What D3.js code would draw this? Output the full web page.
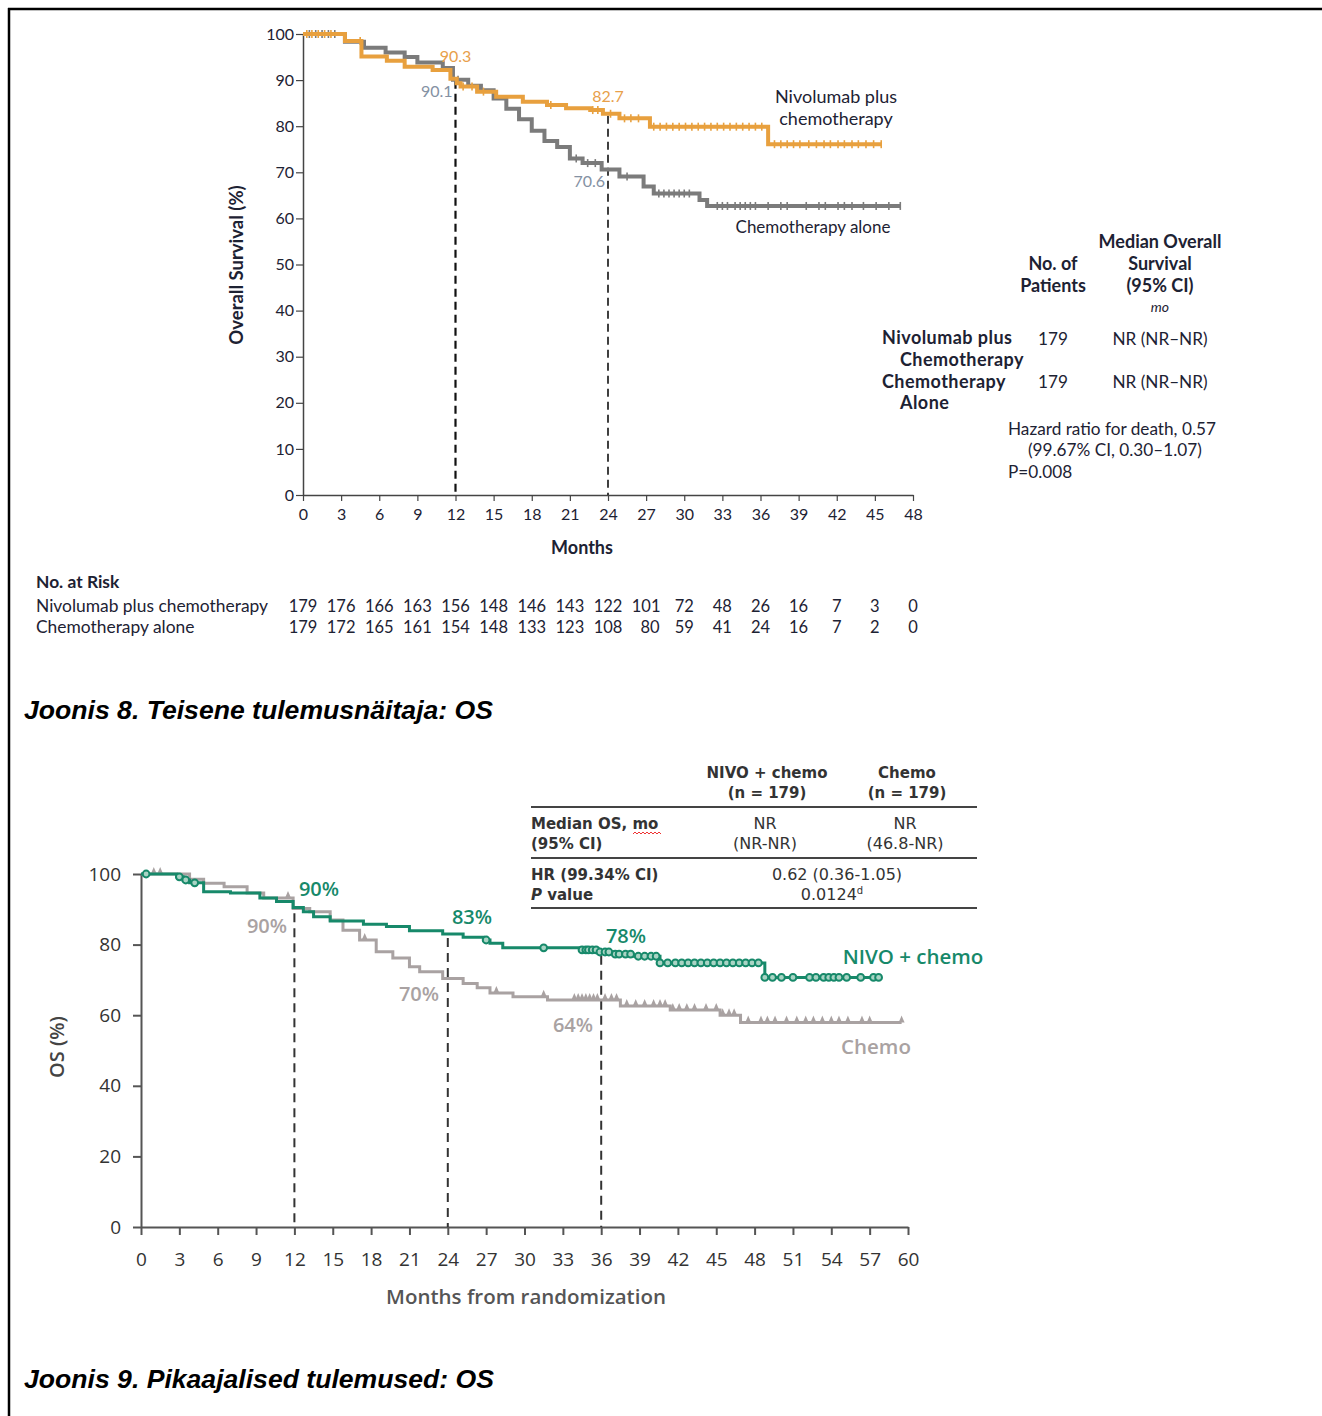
<!DOCTYPE html>
<html>
<head>
<meta charset="utf-8">
<script src="https://cdn.jsdelivr.net/npm/d3@7/dist/d3.min.js"></script>
<style>
  html, body { margin: 0; padding: 0; background: #fff; }
  svg { display: block; }
</style>
</head>
<body>
<svg id="page" width="1322" height="1416"></svg>
<script>
// ---------- Figure 8: CheckMate KM overall survival ----------
const f8Ticks = [0, 3, 6, 9, 12, 15, 18, 21, 24, 27, 30, 33, 36, 39, 42, 45, 48];
const f8YTicks = [0, 10, 20, 30, 40, 50, 60, 70, 80, 90, 100];

const f8NivoTime = [0, 3.3, 4.6, 6.6, 8.0, 10.2, 11.6, 12.1, 12.4, 13.7, 15.2, 17.3, 19.2, 20.7, 22.6, 23.6, 24.9, 27.3, 36.6, 45.5];
const f8NivoSurv = [100, 98.5, 95.1, 94.2, 92.9, 92.2, 90.3, 89.3, 88.6, 87.5, 86.4, 85.3, 84.6, 83.9, 83.5, 82.7, 81.7, 79.9, 76.1, 76.1];
const f8NivoCens = [0.3, 0.7, 1.2, 1.7, 2.2, 4.5, 12.6, 13.3, 14.2, 19.5, 22.8, 23.2, 24.2, 25.3, 25.8, 26.4, 27.6, 28.1, 28.6, 29.1, 29.6, 30.1, 30.6, 31.1, 31.6, 32.1, 32.6, 33.1, 33.6, 34.1, 34.6, 35.1, 35.6, 36.1, 37.1, 37.6, 38.1, 38.6, 39.1, 39.8, 40.4, 41.0, 41.5, 42.1, 42.6, 43.2, 43.7, 44.3, 44.9, 45.5];

const f8ChemoTime = [0, 3.3, 4.8, 6.5, 8.0, 9.0, 11.0, 11.8, 13.0, 14.0, 15.0, 16.0, 17.0, 18.0, 19.0, 20.0, 21.0, 22.0, 23.5, 24.9, 26.8, 27.6, 31.2, 31.8, 47.0];
const f8ChemoSurv = [100, 98.3, 97.0, 96.0, 95.0, 93.8, 92.6, 90.1, 88.8, 87.8, 86.0, 83.8, 81.5, 79.0, 76.8, 75.5, 73.0, 72.0, 70.6, 69.1, 66.9, 65.4, 64.0, 62.7, 62.7];
const f8ChemoCens = [0.5, 1.0, 1.5, 2.0, 2.5, 12.2, 21.5, 22.4, 23.0, 25.5, 28.0, 28.4, 28.8, 29.2, 29.6, 30.0, 30.4, 32.6, 33.0, 33.4, 34.0, 34.4, 34.8, 35.2, 35.6, 36.6, 37.6, 38.1, 39.6, 40.6, 41.1, 42.1, 42.6, 43.2, 44.1, 45.1, 46.1, 47.0];

const f8RiskNivo = [179, 176, 166, 163, 156, 148, 146, 143, 122, 101, 72, 48, 26, 16, 7, 3, 0];
const f8RiskChemo = [179, 172, 165, 161, 154, 148, 133, 123, 108, 80, 59, 41, 24, 16, 7, 2, 0];

// landmark annotations: month and survival of each arm
const f8Marks = [
  { month: 12, nivo: 90.3, chemo: 90.1 },
  { month: 24, nivo: 82.7, chemo: 70.6 }
];

// ---------- Figure 9: long-term OS ----------
const f9Ticks = [0, 3, 6, 9, 12, 15, 18, 21, 24, 27, 30, 33, 36, 39, 42, 45, 48, 51, 54, 57, 60];
const f9YTicks = [0, 20, 40, 60, 80, 100];

const f9NivoTime = [0, 2.8, 3.3, 3.8, 4.9, 7.0, 9.3, 10.6, 11.9, 12.7, 13.5, 14.8, 17.4, 19.2, 21.0, 23.6, 25.2, 26.8, 27.3, 28.3, 34.4, 35.9, 37.0, 38.5, 40.6, 48.8, 57.7];
const f9NivoSurv = [100, 99.2, 98.3, 97.5, 95.0, 94.6, 93.2, 92.2, 90.5, 89.3, 87.9, 86.7, 85.8, 85.1, 83.9, 83.0, 82.1, 81.3, 80.4, 79.1, 78.5, 77.9, 77.3, 76.7, 74.8, 70.7, 70.7];
const f9NivoCens = [0.4, 3.0, 3.5, 4.2, 27.0, 31.5, 34.5, 34.8, 35.0, 35.3, 35.6, 35.9, 36.3, 36.6, 37.1, 37.4, 37.9, 38.3, 38.9, 39.4, 39.9, 40.3, 40.6, 41.2, 41.8, 42.3, 42.8, 43.3, 43.8, 44.3, 44.8, 45.3, 45.8, 46.3, 46.8, 47.3, 47.8, 48.3, 48.8, 49.4, 50.1, 51.0, 52.3, 52.8, 53.4, 53.8, 54.2, 54.6, 55.2, 56.3, 57.3, 57.7];

const f9ChemoTime = [0, 3.8, 4.9, 6.5, 8.3, 9.6, 11.9, 13.2, 14.8, 15.8, 17.1, 18.4, 19.7, 21.0, 21.8, 23.6, 25.2, 26.3, 27.3, 29.1, 31.8, 37.5, 41.4, 45.3, 46.9, 59.5];
const f9ChemoSurv = [100, 98.5, 97.4, 96.4, 94.6, 93.2, 90.2, 89.3, 87.0, 84.1, 81.3, 78.0, 76.2, 73.7, 72.3, 70.4, 69.0, 67.8, 66.3, 65.2, 64.3, 62.6, 61.5, 60.0, 57.9, 57.9];
const f9ChemoCens = [1.0, 1.5, 11.5, 17.5, 27.8, 31.5, 33.9, 34.2, 34.5, 34.8, 35.1, 35.4, 35.7, 36.3, 36.8, 37.2, 38.0, 38.7, 39.4, 40.1, 40.6, 41.0, 41.6, 42.1, 42.7, 43.3, 44.2, 45.0, 45.5, 46.0, 46.4, 47.5, 48.5, 49.0, 49.6, 50.5, 51.3, 52.0, 52.6, 53.3, 54.0, 54.6, 55.3, 56.4, 57.0, 59.5];

const f9Marks = [
  { month: 12, nivo: 90, chemo: 90 },
  { month: 24, nivo: 83, chemo: 70 },
  { month: 36, nivo: 78, chemo: 64 }
];

// ---------- helpers ----------
const svg = d3.select("#page");
const zip = (t, s) => t.map((d, i) => ({ t: d, s: s[i] }));
function stepValue(time, surv, x) {
  let v = surv[0];
  for (let i = 0; i < time.length; i++) { if (time[i] <= x) v = surv[i]; else break; }
  return v;
}

// page frame
svg.append("line").attr("x1", 8).attr("x2", 1322).attr("y1", 9).attr("y2", 9)
  .attr("stroke", "#000").attr("stroke-width", 2.5);
svg.append("line").attr("x1", 9).attr("x2", 9).attr("y1", 8).attr("y2", 1416)
  .attr("stroke", "#000").attr("stroke-width", 2.5);

// ================= Figure 8 =================
{
  const ink = "#1d2233";
  const font = "Lato, 'Open Sans', sans-serif";
  const orange = "#E8A03E", grey = "#7b7b7b";
  const x = d3.scaleLinear().domain([0, 48]).range([303, 913]);
  const y = d3.scaleLinear().domain([0, 100]).range([495, 34]);
  const g = svg.append("g").attr("font-family", font).attr("fill", ink);

  // axes
  const yAxis = g.append("g").attr("transform", "translate(303,0)")
    .call(d3.axisLeft(y).tickValues(f8YTicks).tickSize(7).tickSizeOuter(0));
  yAxis.select(".domain").attr("stroke", "#444").attr("stroke-width", 1.5);
  yAxis.selectAll(".tick line").attr("stroke", "#444").attr("stroke-width", 1.2);
  yAxis.selectAll(".tick text").attr("font-size", 16).attr("fill", ink).attr("x", -9).attr("font-family", font);

  const xAxis = g.append("g").attr("transform", "translate(0,495)")
    .call(d3.axisBottom(x).tickValues(f8Ticks).tickSize(6).tickSizeOuter(0));
  xAxis.select(".domain").attr("stroke", "#444").attr("stroke-width", 1.5);
  xAxis.selectAll(".tick line").attr("stroke", "#444").attr("stroke-width", 1.2);
  xAxis.selectAll(".tick text").attr("font-size", 16).attr("fill", ink).attr("y", 14).attr("font-family", font);

  g.append("text").attr("x", 582).attr("y", 554).attr("text-anchor", "middle")
    .attr("font-size", 18).attr("font-weight", "bold").text("Months");
  g.append("text").attr("transform", "translate(243,265) rotate(-90)").attr("text-anchor", "middle")
    .attr("font-size", 18.5).attr("font-weight", "bold").text("Overall Survival (%)");

  // landmark dashed lines
  f8Marks.forEach(m => {
    g.append("line").attr("x1", x(m.month)).attr("x2", x(m.month))
      .attr("y1", y(Math.max(m.nivo, m.chemo)) + 2).attr("y2", 495)
      .attr("stroke", "#111").attr("stroke-width", m.month === 12 ? 2.2 : 1.6)
      .attr("stroke-dasharray", "8,5");
  });

  const line = d3.line().x(d => x(d.t)).y(d => y(d.s)).curve(d3.curveStepAfter);
  const drawKM = (time, surv, cens, color) => {
    g.append("path").datum(zip(time, surv)).attr("d", line)
      .attr("fill", "none").attr("stroke", color).attr("stroke-width", 4);
    g.append("g").selectAll("line").data(cens).join("line")
      .attr("x1", d => x(d)).attr("x2", d => x(d))
      .attr("y1", d => y(stepValue(time, surv, d)) - 4)
      .attr("y2", d => y(stepValue(time, surv, d)) + 4)
      .attr("stroke", color).attr("stroke-width", 1.6);
  };
  drawKM(f8ChemoTime, f8ChemoSurv, f8ChemoCens, grey);
  drawKM(f8NivoTime, f8NivoSurv, f8NivoCens, orange);

  // landmark value labels
  const labO = "#E8A04A", labG = "#8491a3";
  g.append("text").attr("x", x(12)).attr("y", 62).attr("text-anchor", "middle").attr("font-size", 16).attr("fill", labO).text(f8Marks[0].nivo.toFixed(1));
  g.append("text").attr("x", x(12) - 3).attr("y", 97).attr("text-anchor", "end").attr("font-size", 16).attr("fill", labG).text(f8Marks[0].chemo.toFixed(1));
  g.append("text").attr("x", x(24)).attr("y", 102).attr("text-anchor", "middle").attr("font-size", 16).attr("fill", labO).text(f8Marks[1].nivo.toFixed(1));
  g.append("text").attr("x", x(24) - 3).attr("y", 187).attr("text-anchor", "end").attr("font-size", 16).attr("fill", labG).text(f8Marks[1].chemo.toFixed(1));

  // series labels
  g.append("text").attr("x", 836).attr("y", 103).attr("text-anchor", "middle").attr("font-size", 18).text("Nivolumab plus");
  g.append("text").attr("x", 836).attr("y", 125).attr("text-anchor", "middle").attr("font-size", 18).text("chemotherapy");
  g.append("text").attr("x", 813).attr("y", 233).attr("text-anchor", "middle").attr("font-size", 17).text("Chemotherapy alone");

  // summary table
  const tb = (txt, xx, yy, anchor, weight, style) => g.append("text").attr("x", xx).attr("y", yy)
    .attr("text-anchor", anchor).attr("font-size", weight === "bold" ? 18 : 17.2).attr("font-weight", weight || "normal")
    .attr("font-style", style || "normal").text(txt);
  tb("Median Overall", 1160, 248, "middle", "bold");
  tb("Survival", 1160, 270, "middle", "bold");
  tb("(95% CI)", 1160, 292, "middle", "bold");
  tb("mo", 1160, 312, "middle", "normal", "italic").attr("font-size", 14);
  tb("No. of", 1053, 270, "middle", "bold");
  tb("Patients", 1053, 292, "middle", "bold");
  tb("Nivolumab plus", 882, 344, "start", "bold").attr("letter-spacing", 0.45);
  tb("Chemotherapy", 900, 366, "start", "bold").attr("letter-spacing", 0.45);
  tb("Chemotherapy", 882, 388, "start", "bold").attr("letter-spacing", 0.45);
  tb("Alone", 900, 409, "start", "bold").attr("letter-spacing", 0.45);
  tb(String(f8RiskNivo[0]), 1053, 345, "middle");
  tb(String(f8RiskChemo[0]), 1053, 388, "middle");
  tb("NR (NR\u2013NR)", 1160, 345, "middle");
  tb("NR (NR\u2013NR)", 1160, 388, "middle");
  tb("Hazard ratio for death, 0.57", 1008, 435, "start");
  tb("(99.67% CI, 0.30\u20131.07)", 1028, 456, "start");
  tb("P=0.008", 1008, 478, "start");

  // number at risk
  g.append("text").attr("x", 36).attr("y", 588).attr("font-size", 17.4).attr("font-weight", "bold").text("No. at Risk");
  g.append("text").attr("x", 36).attr("y", 612).attr("font-size", 17.4).text("Nivolumab plus chemotherapy");
  g.append("text").attr("x", 36).attr("y", 633).attr("font-size", 17.4).text("Chemotherapy alone");
  g.append("g").selectAll("text").data(f8RiskNivo).join("text")
    .attr("x", (d, i) => x(f8Ticks[i])).attr("y", 612).attr("text-anchor", "middle")
    .attr("font-size", 16.5).text(d => d);
  g.append("g").selectAll("text").data(f8RiskChemo).join("text")
    .attr("x", (d, i) => x(f8Ticks[i]) + (i === 9 ? 4 : 0)).attr("y", 633).attr("text-anchor", "middle")
    .attr("font-size", 16.5).text(d => d);
}

// captions
const capFont = "'Liberation Sans', Arial, sans-serif";
svg.append("text").attr("x", 24).attr("y", 719).attr("font-family", capFont)
  .attr("font-size", 26.6).attr("font-weight", "bold").attr("font-style", "italic").text("Joonis 8. Teisene tulemusnäitaja: OS");
svg.append("text").attr("x", 24).attr("y", 1388).attr("font-family", capFont)
  .attr("font-size", 26.6).attr("font-weight", "bold").attr("font-style", "italic").text("Joonis 9. Pikaajalised tulemused: OS");

// ================= Figure 9 =================
{
  const ink = "#333";
  const font = "'Open Sans', sans-serif";
  const tfont = "'DejaVu Sans', sans-serif";
  const green = "#17896A", grey = "#A9A2A2";
  const x = d3.scaleLinear().domain([0, 60]).range([141, 908]);
  const y = d3.scaleLinear().domain([0, 100]).range([1227, 874]);
  const g = svg.append("g").attr("font-family", font).attr("fill", ink);

  const yAxis = g.append("g").attr("transform", "translate(141,0)")
    .call(d3.axisLeft(y).tickValues(f9YTicks).tickSize(8).tickSizeOuter(0));
  yAxis.select(".domain").attr("stroke", "#555").attr("stroke-width", 2);
  yAxis.selectAll(".tick line").attr("stroke", "#555").attr("stroke-width", 2);
  yAxis.selectAll(".tick text").attr("font-size", 19).attr("fill", ink).attr("x", -20).attr("font-family", font);

  const xAxis = g.append("g").attr("transform", "translate(0,1227)")
    .call(d3.axisBottom(x).tickValues(f9Ticks).tickSize(8).tickSizeOuter(0));
  xAxis.select(".domain").attr("stroke", "#555").attr("stroke-width", 2);
  xAxis.selectAll(".tick line").attr("stroke", "#555").attr("stroke-width", 2);
  xAxis.selectAll(".tick text").attr("font-size", 19).attr("fill", ink).attr("y", 26).attr("font-family", font);

  g.append("text").attr("x", 526).attr("y", 1304).attr("text-anchor", "middle")
    .attr("font-size", 20.5).attr("fill", "#555").attr("font-weight", 600).text("Months from randomization");
  g.append("text").attr("transform", "translate(64,1047) rotate(-90)").attr("text-anchor", "middle")
    .attr("font-size", 20).attr("fill", "#444").attr("font-weight", 600).text("OS (%)");

  f9Marks.forEach(m => {
    g.append("line").attr("x1", x(m.month)).attr("x2", x(m.month))
      .attr("y1", y(Math.max(m.nivo, m.chemo)) + 4).attr("y2", 1227)
      .attr("stroke", "#333").attr("stroke-width", 2).attr("stroke-dasharray", "9,6");
  });

  const line = d3.line().x(d => x(d.t)).y(d => y(d.s)).curve(d3.curveStepAfter);
  g.append("path").datum(zip(f9ChemoTime, f9ChemoSurv)).attr("d", line)
    .attr("fill", "none").attr("stroke", grey).attr("stroke-width", 3);
  g.append("g").selectAll("path").data(f9ChemoCens).join("path")
    .attr("d", d => { const cx = x(d), cy = y(stepValue(f9ChemoTime, f9ChemoSurv, d)); return `M${cx - 3},${cy}L${cx},${cy - 7}L${cx + 3},${cy}Z`; })
    .attr("fill", grey);

  g.append("path").datum(zip(f9NivoTime, f9NivoSurv)).attr("d", line)
    .attr("fill", "none").attr("stroke", green).attr("stroke-width", 3);
  g.append("g").selectAll("circle").data(f9NivoCens).join("circle")
    .attr("cx", d => x(d)).attr("cy", d => y(stepValue(f9NivoTime, f9NivoSurv, d)))
    .attr("r", 3.4).attr("fill", "#a9d4c4").attr("stroke", green).attr("stroke-width", 2);

  const lab = (txt, xx, yy, color, size) => g.append("text").attr("x", xx).attr("y", yy)
    .attr("text-anchor", "middle").attr("font-size", size || 20).attr("font-weight", 600)
    .attr("fill", color).text(txt);
  lab(f9Marks[0].nivo + "%", 319, 896, green);
  lab(f9Marks[1].nivo + "%", 472, 924, green);
  lab(f9Marks[2].nivo + "%", 626, 943, green);
  lab(f9Marks[0].chemo + "%", 267, 933, grey);
  lab(f9Marks[1].chemo + "%", 419, 1001, grey);
  lab(f9Marks[2].chemo + "%", 573, 1032, grey);
  lab("NIVO + chemo", 913, 964, green, 20.5);
  lab("Chemo", 876, 1054, grey, 20.5);

  // summary table
  const t = (txt, xx, yy, anchor, bold) => g.append("text").attr("x", xx).attr("y", yy)
    .attr("text-anchor", anchor).attr("font-family", tfont).attr("font-size", bold ? 15 : 16)
    .attr("font-weight", bold ? "bold" : "normal").attr("fill", "#333").text(txt);
  t("NIVO + chemo", 767, 778, "middle", true);
  t("(n = 179)", 767, 798, "middle", true);
  t("Chemo", 907, 778, "middle", true);
  t("(n = 179)", 907, 798, "middle", true);
  t("Median OS, mo", 531, 829, "start", true);
  t("(95% CI)", 531, 849, "start", true);
  t("NR", 765, 829, "middle");
  t("(NR-NR)", 765, 849, "middle");
  t("NR", 905, 829, "middle");
  t("(46.8-NR)", 905, 849, "middle");
  t("HR (99.34% CI)", 531, 880, "start", true);
  const pv = t("", 531, 900, "start", true);
  pv.append("tspan").attr("font-style", "italic").text("P");
  pv.append("tspan").text(" value");
  t("0.62 (0.36-1.05)", 837, 880, "middle");
  const p2 = t("0.0124", 832, 900, "middle");
  p2.append("tspan").attr("font-size", 10).attr("dy", -6).text("d");
  [807, 858, 908].forEach(yy => g.append("line").attr("x1", 531).attr("x2", 977).attr("y1", yy).attr("y2", yy)
    .attr("stroke", "#444").attr("stroke-width", 2));
  // spell-check squiggle under "mo"
  let sq = "M633,834";
  for (let i = 0; i < 14; i++) sq += `l2,${i % 2 ? 2 : -2}`;
  g.append("path").attr("d", sq).attr("fill", "none").attr("stroke", "#e33").attr("stroke-width", 1);
}
</script>
</body>
</html>
